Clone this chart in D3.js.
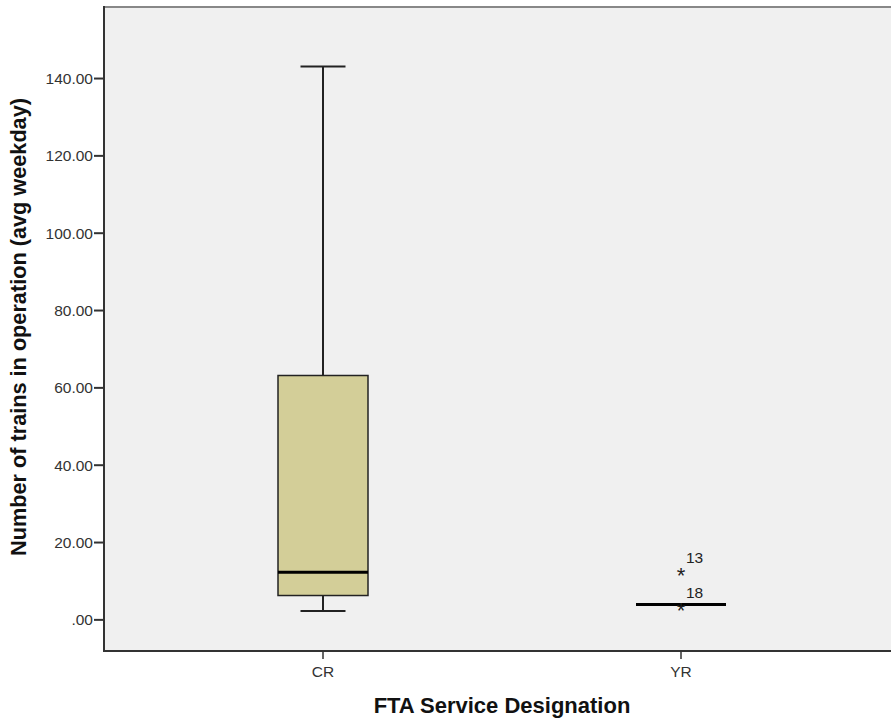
<!DOCTYPE html>
<html>
<head>
<meta charset="utf-8">
<script src="https://cdn.jsdelivr.net/npm/d3@7"></script>
<style>
body { margin: 0; background: #fff; }
text { font-family: "Liberation Sans", Arial, sans-serif; }
</style>
</head>
<body>
<script>
// service designations and box summaries
var categories = ["CR", "YR"];
var whiskerLow = [2.3, 4];
var q1 = [6.3, 4];
var median = [12.3, 4];
var q3 = [63.2, 4];
var whiskerHigh = [143.1, 4];
// extreme points shown as stars, with case numbers
var outlierCat = ["YR", "YR"];
var outlierVal = [12, 3];
var outlierId = ["13", "18"];
var yTicks = [0, 20, 40, 60, 80, 100, 120, 140];

var W = 891, H = 722;
var plotLeft = 104, plotTop = 7, plotBottom = 651, plotRight = 900;

var svg = d3.select("body").append("svg")
  .attr("width", W)
  .attr("height", H);

var x = d3.scaleBand()
  .domain(categories)
  .range([144, 860]);

var y = d3.scaleLinear()
  .domain([-8.05, 158.5])
  .range([plotBottom, plotTop]);

svg.append("rect")
  .attr("x", plotLeft).attr("y", plotTop)
  .attr("width", plotRight - plotLeft).attr("height", plotBottom - plotTop)
  .attr("fill", "#f0f0f0");

// frame
svg.append("line").attr("x1", plotLeft).attr("x2", plotRight).attr("y1", plotTop).attr("y2", plotTop)
  .attr("stroke", "#888").attr("stroke-width", 2);
svg.append("line").attr("x1", plotLeft).attr("x2", plotLeft).attr("y1", plotTop - 1).attr("y2", plotBottom + 1)
  .attr("stroke", "#333").attr("stroke-width", 2);
svg.append("line").attr("x1", plotLeft).attr("x2", plotRight).attr("y1", plotBottom).attr("y2", plotBottom)
  .attr("stroke", "#333").attr("stroke-width", 2);

// y axis ticks
var yAxis = svg.append("g");
yAxis.selectAll("line").data(yTicks).join("line")
  .attr("x1", plotLeft - 10).attr("x2", plotLeft)
  .attr("y1", d => y(d)).attr("y2", d => y(d))
  .attr("stroke", "#333").attr("stroke-width", 2);
yAxis.selectAll("text").data(yTicks).join("text")
  .attr("x", plotLeft - 11).attr("y", d => y(d))
  .attr("dy", "0.36em")
  .attr("text-anchor", "end")
  .attr("font-size", 15.5)
  .attr("fill", "#333")
  .text(d => d === 0 ? ".00" : d.toFixed(2));

// x axis ticks
var xAxis = svg.append("g");
xAxis.selectAll("line").data(categories).join("line")
  .attr("x1", d => x(d) + x.bandwidth() / 2).attr("x2", d => x(d) + x.bandwidth() / 2)
  .attr("y1", plotBottom).attr("y2", plotBottom + 8)
  .attr("stroke", "#333").attr("stroke-width", 1.5);
xAxis.selectAll("text").data(categories).join("text")
  .attr("x", d => x(d) + x.bandwidth() / 2).attr("y", plotBottom + 26)
  .attr("text-anchor", "middle")
  .attr("font-size", 15.5)
  .attr("fill", "#333")
  .text(d => d);

// boxes
var boxW = 90;
var boxes = svg.append("g").selectAll("g").data(categories).join("g");
boxes.each(function(c, i) {
  var g = d3.select(this);
  var cx = x(c) + x.bandwidth() / 2;
  // whiskers
  g.append("line").attr("x1", cx).attr("x2", cx)
    .attr("y1", y(whiskerHigh[i])).attr("y2", y(q3[i]))
    .attr("stroke", "#222").attr("stroke-width", 2);
  g.append("line").attr("x1", cx).attr("x2", cx)
    .attr("y1", y(q1[i])).attr("y2", y(whiskerLow[i]))
    .attr("stroke", "#222").attr("stroke-width", 2);
  if (whiskerHigh[i] > whiskerLow[i]) {
    g.append("line").attr("x1", cx - boxW / 4).attr("x2", cx + boxW / 4)
      .attr("y1", y(whiskerHigh[i])).attr("y2", y(whiskerHigh[i]))
      .attr("stroke", "#222").attr("stroke-width", 2);
    g.append("line").attr("x1", cx - boxW / 4).attr("x2", cx + boxW / 4)
      .attr("y1", y(whiskerLow[i])).attr("y2", y(whiskerLow[i]))
      .attr("stroke", "#222").attr("stroke-width", 2);
  }
  if (q3[i] > q1[i]) {
    g.append("rect")
      .attr("x", cx - boxW / 2).attr("y", y(q3[i]))
      .attr("width", boxW).attr("height", y(q1[i]) - y(q3[i]))
      .attr("fill", "#d3ce98").attr("stroke", "#222").attr("stroke-width", 1.5);
  }
  g.append("line").attr("x1", cx - boxW / 2).attr("x2", cx + boxW / 2)
    .attr("y1", y(median[i])).attr("y2", y(median[i]))
    .attr("stroke", "#000").attr("stroke-width", 3);
});

// outliers
var outs = svg.append("g").selectAll("g").data(outlierVal).join("g");
outs.append("text")
  .attr("x", (d, i) => x(outlierCat[i]) + x.bandwidth() / 2)
  .attr("y", d => y(d) + 10)
  .attr("text-anchor", "middle")
  .attr("font-size", 22)
  .attr("fill", "#222")
  .text("*");
outs.append("text")
  .attr("x", (d, i) => x(outlierCat[i]) + x.bandwidth() / 2 + 5)
  .attr("y", d => y(d) - 10)
  .attr("font-size", 15.5)
  .attr("fill", "#222")
  .text((d, i) => outlierId[i]);

// axis titles
svg.append("text")
  .attr("x", 502).attr("y", 713)
  .attr("text-anchor", "middle")
  .attr("font-size", 22).attr("font-weight", "bold")
  .attr("fill", "#111")
  .text("FTA Service Designation");
svg.append("text")
  .attr("transform", "translate(26," + 327 + ") rotate(-90)")
  .attr("text-anchor", "middle")
  .attr("font-size", 21.7).attr("font-weight", "bold")
  .attr("fill", "#111")
  .text("Number of trains in operation (avg weekday)");
</script>
</body>
</html>
